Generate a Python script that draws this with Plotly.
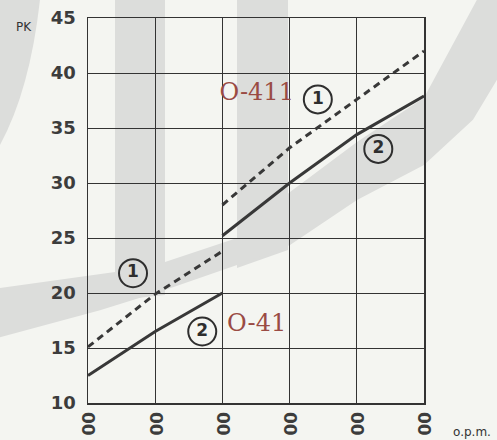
import plotly.graph_objects as go

# ---- data ----
x_ticks = [0, 1, 2, 3, 4, 5]
x_ticktext = ["00", "00", "00", "00", "00", "00"]
y_ticks = [10, 15, 20, 25, 30, 35, 40, 45]

x_low = [0, 1, 2]
solid_low = [12.5, 16.5, 20.0]     # curve 2, O-41
dashed_low = [15.1, 19.9, 23.8]    # curve 1, O-41

x_high = [2, 3, 4, 5]
solid_high = [25.2, 30.0, 34.4, 37.9]   # curve 2, O-411
dashed_high = [28.0, 33.2, 37.6, 42.0]  # curve 1, O-411

circle_x = [3.42, 4.32, 0.67, 1.70]
circle_y = [37.6, 33.1, 21.8, 16.5]
circle_txt = ["1", "2", "1", "2"]

model_x = [2.51, 2.51]
model_y = [38.1, 17.1]
model_txt = ["O-411", "O-41"]

# ---- style ----
W, H = 497, 440
L, R, T, B = 88, 424, 18.3, 402.7
ink = "#333333"
bg = "#f4f5f1"
wm = "#dcdddb"
brown = "#9a4b44"

def px(X):
    return (X - L) / (R - L)

def py(Y):
    return (B - Y) / (B - T)

def poly(points):
    s = "M " + " L ".join(f"{px(a):.4f},{py(b):.4f}" for a, b in points) + " Z"
    return dict(type="path", xref="paper", yref="paper", path=s,
                fillcolor=wm, line=dict(width=0), layer="below")

shapes = [
    poly([(115, 0), (165, 0), (165, 295), (115, 300)]),
    poly([(237, 0), (288, 0), (288, 250), (237, 268)]),
    poly([(0, 288), (115, 272), (165, 262), (237, 238), (290, 192), (357, 142),
          (424, 98), (477, 0), (497, 0), (497, 80), (473, 120), (424, 165),
          (357, 200), (290, 245), (237, 265), (165, 290), (100, 310), (0, 337)]),
    dict(type="path", xref="paper", yref="paper",
         path=f"M {px(0):.4f},{py(0):.4f} L {px(40):.4f},{py(0):.4f} "
              f"Q {px(30):.4f},{py(90):.4f} {px(0):.4f},{py(145):.4f} Z",
         fillcolor=wm, line=dict(width=0), layer="below"),
]

fig = go.Figure()

line_solid = dict(color="#383838", width=3)
line_dash = dict(color="#383838", width=3, dash="7px,5px")

fig.add_trace(go.Scatter(x=x_low, y=dashed_low, mode="lines", line=line_dash))
fig.add_trace(go.Scatter(x=x_low, y=solid_low, mode="lines", line=line_solid))
fig.add_trace(go.Scatter(x=x_high, y=dashed_high, mode="lines", line=line_dash))
fig.add_trace(go.Scatter(x=x_high, y=solid_high, mode="lines", line=line_solid))

fig.add_trace(go.Scatter(
    x=circle_x, y=circle_y, mode="markers+text", text=circle_txt,
    textposition="middle center",
    textfont=dict(family="DejaVu Sans", size=17, color="#2e2e2e", weight="bold"),
    marker=dict(symbol="circle", size=28, color="rgba(0,0,0,0)",
                line=dict(color="#2e2e2e", width=2)),
))

fig.add_trace(go.Scatter(
    x=model_x, y=model_y, mode="text", text=model_txt,
    textposition="middle center",
    textfont=dict(family="DejaVu Serif", size=24, color=brown),
))

fig.update_layout(
    width=W, height=H,
    margin=dict(l=L, r=W - R, t=T, b=H - B, pad=0),
    paper_bgcolor=bg, plot_bgcolor="rgba(0,0,0,0)",
    showlegend=False,
    shapes=shapes,
    xaxis=dict(range=[0, 5], tickvals=x_ticks, ticktext=x_ticktext,
               tickangle=90, showgrid=True, gridcolor=ink, gridwidth=1,
               zeroline=False, showline=True, linecolor=ink, linewidth=1.5,
               mirror=True, ticks="", ticklabelstandoff=4, automargin=False,
               tickfont=dict(family="DejaVu Sans", size=17, color="#3c3c3c",
                             weight="bold")),
    yaxis=dict(range=[10, 45], tickvals=y_ticks, showgrid=True,
               gridcolor=ink, gridwidth=1, zeroline=False, showline=True,
               linecolor=ink, linewidth=1.5, mirror=True, ticks="",
               ticklabelstandoff=7, automargin=False,
               tickfont=dict(family="DejaVu Sans", size=18, color="#3c3c3c",
                             weight="bold")),
    annotations=[
        dict(text="PK", xref="paper", yref="paper", x=px(24), y=py(27),
             showarrow=False, xanchor="center", yanchor="middle",
             font=dict(family="DejaVu Sans", size=12, color="#333333")),
        dict(text="o.p.m.", xref="paper", yref="paper", x=px(472), y=py(432),
             showarrow=False, xanchor="center", yanchor="middle",
             font=dict(family="DejaVu Sans", size=12, color="#333333")),
    ],
)

fig.write_html("out.html",
               config={"displayModeBar": False, "staticPlot": True},
               post_script="document.body.style.margin='0';"
                           "document.body.style.background='" + bg + "';")
